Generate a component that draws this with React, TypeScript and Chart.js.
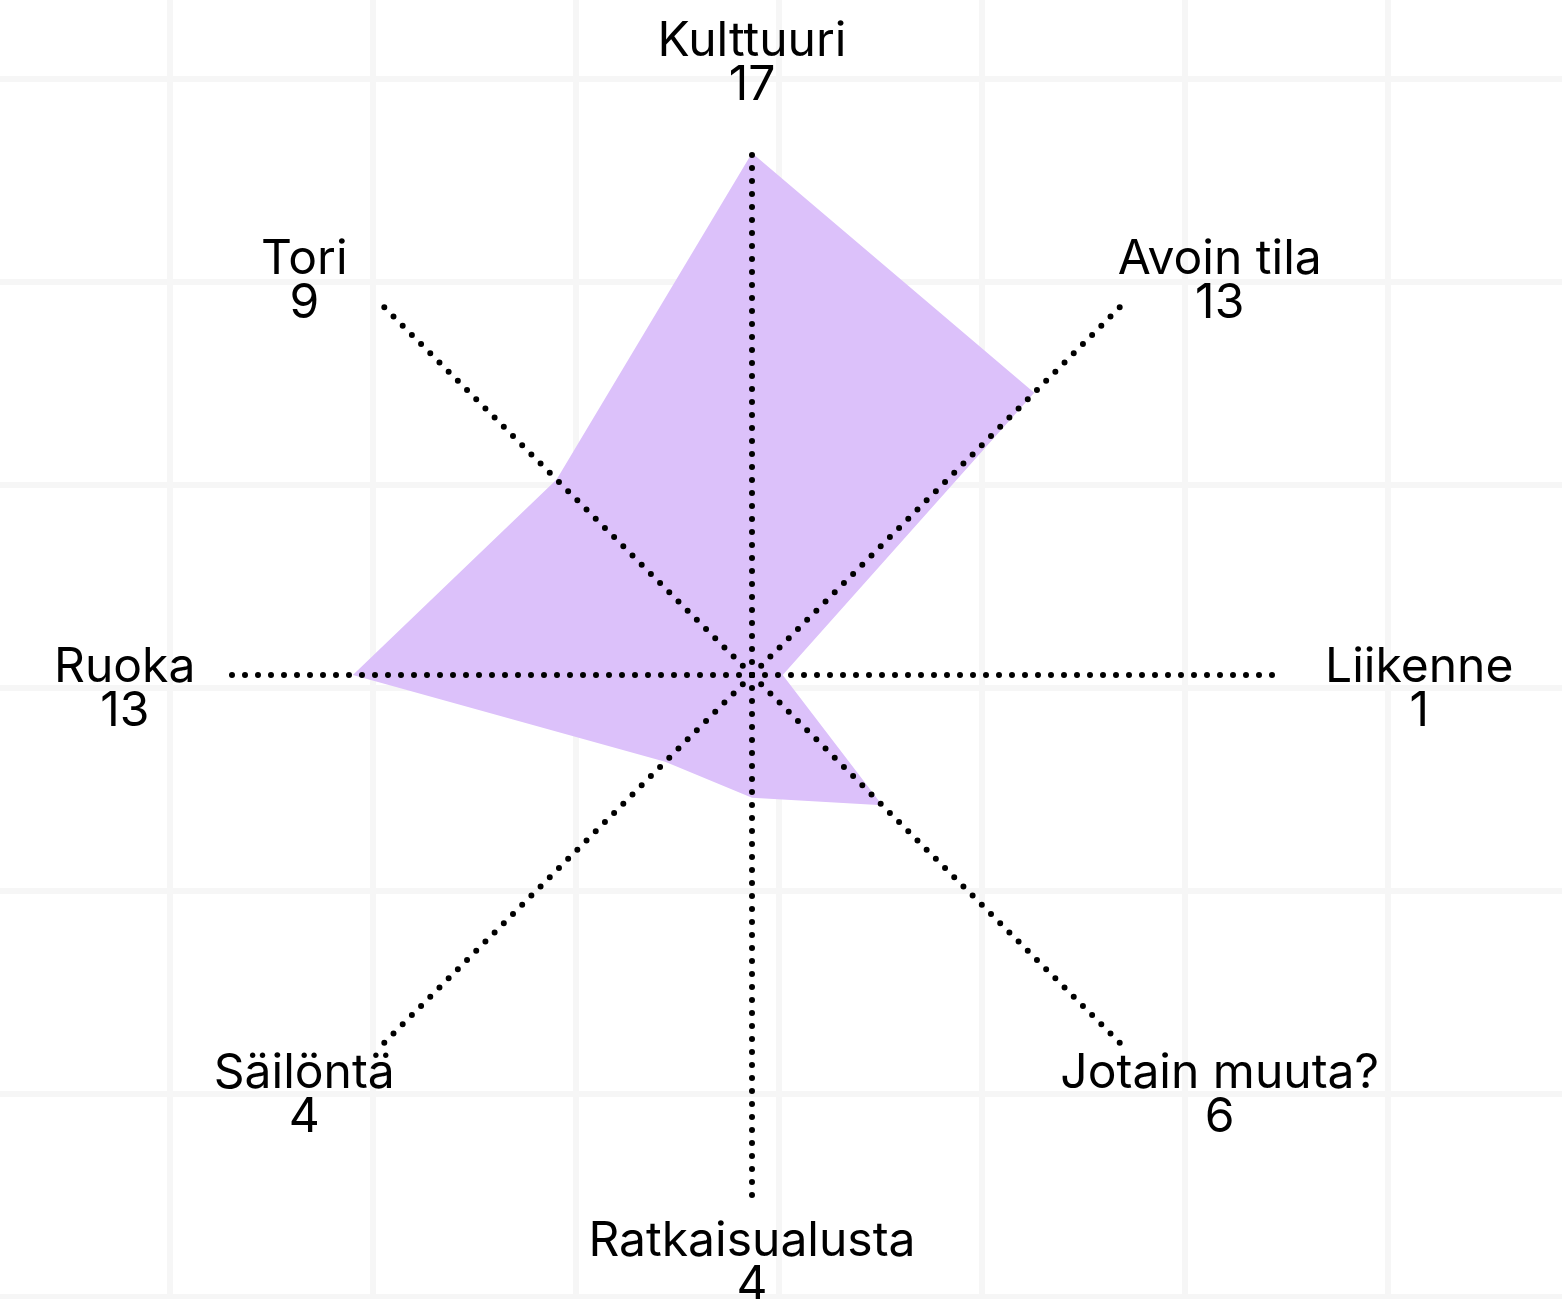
import React, { useEffect, useRef } from "react";
import { Chart, registerables } from "chart.js";

Chart.register(...registerables);

const categories = [
  "Kulttuuri",
  "Avoin tila",
  "Liikenne",
  "Jotain muuta?",
  "Ratkaisualusta",
  "Säilöntä",
  "Ruoka",
  "Tori",
];
const values = [17, 13, 1, 6, 4, 4, 13, 9];
const scaleMin = 0;
const scaleMax = 17;

const WIDTH = 1562;
const HEIGHT = 1299;
const FONT = "48px Inter, 'Liberation Sans', sans-serif";

const centeredLabels = {
  id: "centeredLabels",
  beforeDraw(chart: any) {
    chart.ctx.lineCap = "round";
  },
  afterDraw(chart: any) {
    const scale = chart.scales.r;
    const ctx = chart.ctx;
    const R = scale.drawingArea;
    ctx.save();
    ctx.font = FONT;
    ctx.fillStyle = "#000";
    ctx.textAlign = "center";
    ctx.textBaseline = "alphabetic";
    categories.forEach((cat, i) => {
      const p = scale.getPointPosition(i, R);
      const ux = (p.x - scale.xCenter) / R;
      const uy = (p.y - scale.yCenter) / R;
      const cx = scale.xCenter + ux * R * 1.24 + 20 * ux * ux;
      const fy = 1.1 + 0.1 * Math.pow(Math.max(0, -uy), 8);
      const cy = scale.yCenter + 12 + uy * R * fy;
      ctx.fillText(cat, cx, cy - 5);
      ctx.fillText(String(values[i]), cx, cy + 39);
    });
    ctx.restore();
  },
};

export default function App() {
  const canvasRef = useRef<HTMLCanvasElement | null>(null);

  useEffect(() => {
    document.body.style.margin = "0";
    const canvas = canvasRef.current;
    if (!canvas) return;
    const chart = new Chart(canvas, {
      type: "radar",
      data: {
        labels: categories,
        datasets: [
          {
            data: values,
            backgroundColor: "#dcc1fa",
            borderWidth: 0,
            borderColor: "rgba(0,0,0,0)",
            pointRadius: 0,
            pointHoverRadius: 0,
            fill: true,
          },
        ],
      },
      options: {
        animation: false,
        responsive: false,
        devicePixelRatio: 1,
        events: [],
        layout: {
          padding: { left: 230, right: 288, top: 153, bottom: 102 },
        },
        plugins: {
          legend: { display: false },
          tooltip: { enabled: false },
        },
        scales: {
          r: {
            min: scaleMin,
            max: scaleMax,
            ticks: { display: false, z: 1 },
            grid: { display: false, z: 1 },
            pointLabels: { display: false },
            angleLines: {
              display: true,
              color: "#000",
              lineWidth: 6,
              borderDash: [0, 13],
            },
          },
        },
      },
      plugins: [centeredLabels],
    } as any);
    return () => chart.destroy();
  }, []);

  return (
    <div
      style={{
        position: "absolute",
        left: 0,
        top: 0,
        width: WIDTH,
        height: HEIGHT,
        overflow: "hidden",
        backgroundColor: "#ffffff",
        backgroundImage:
          "linear-gradient(to right, #f6f6f6 6px, transparent 6px), linear-gradient(to bottom, #f6f6f6 6px, transparent 6px)",
        backgroundSize: "203px 203px",
        backgroundPosition: "167px 76px",
      }}
    >
      <canvas
        ref={canvasRef}
        width={WIDTH}
        height={HEIGHT}
        style={{ display: "block", width: WIDTH, height: HEIGHT }}
      />
    </div>
  );
}
